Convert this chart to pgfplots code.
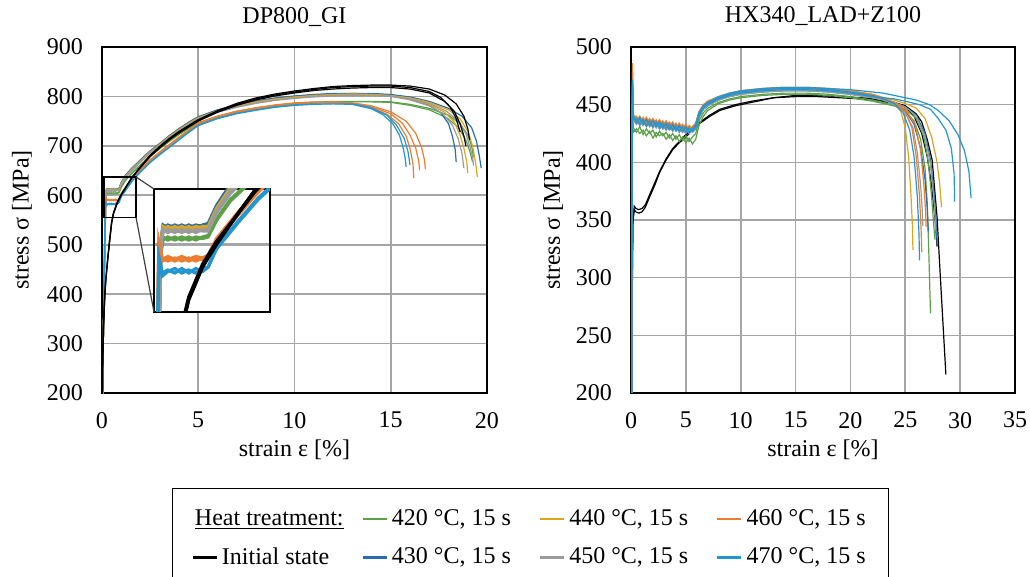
\documentclass[border=0pt]{standalone}
\usepackage{fontspec}
\setmainfont{Liberation Serif}
\usepackage{pgfplots}
\pgfplotsset{compat=1.18}
\usepackage{pgfplotstable}
\definecolor{cgn}{RGB}{92,160,72}
\definecolor{cdb}{RGB}{40,110,175}
\definecolor{cau}{RGB}{220,165,30}
\definecolor{cgy}{RGB}{155,155,155}
\definecolor{cor}{RGB}{237,125,49}
\definecolor{clb}{RGB}{35,150,210}
\definecolor{cgrid}{RGB}{165,165,165}

% ---------------- DP800_GI ----------------
\pgfplotstableread{
e au1 au2 gy1 gy2 gn1 gn2 db1 db2
0.02 150 150 150 150 150 150 150 150
0.1 400 395 405 398 402 396 408 400
0.2 600 602 598 601 596 594 603 600
0.23 612 610 610 608 605 603 613 611
0.3 610 612 608 610 603 605 611 613
0.4 612 610 610 608 605 603 613 611
0.5 610 612 608 610 603 605 611 613
0.6 612 610 610 608 605 603 613 611
0.7 610 612 608 610 603 605 611 613
0.8 612 611 610 609 605 604 613 612
0.88 612 611 610 609 606 605 614 613
1.0 624 623 622 621 617 616 626 625
1.2 638 636 636 634 630 629 640 638
1.5 651 650 649 648 643 642 653 652
2 670 669 668 667 662 661 672 671
2.5 688 687 686 685 680 679 690 689
3 703 702 701 700 695 694 705 704
3.5 719 718 717 716 710 709 721 720
4 733 732 731 730 724 723 735 734
4.5 746 745 744 743 736 735 748 747
5 757 756 755 754 747 746 759 758
6 771 770 769 768 760 759 773 772
7 781 780 779 778 770 769 783 782
8 789 788 787 786 777 776 791 790
9 795 794 793 792 782 781 797 796
10 799 798 797 796 786 785 801 800
11 802 801 800 799 788 787 804 803
12 804 803 802 801 790 789 806 805
13 805 804 803 802 790 789 806 806
14 804 804 802 802 790 789 805 806
}\LUhead
\pgfplotstableread{
e or1 or2 or3 lb1 lb2
0.02 150 150 150 150 150
0.1 400 404 396 402 398
0.17 598 602 596 592 590
0.22 589 591 590 581 579
0.3 591 589 592 583 582
0.4 589 591 590 581 584
0.5 591 589 592 584 581
0.6 589 591 590 581 583
0.7 591 589 592 584 581
0.8 590 591 591 582 584
0.88 592 592 593 585 585
1.0 603 602 604 598 597
1.3 620 619 621 615 614
1.6 636 635 637 631 630
2 652 651 653 648 647
2.5 671 670 672 667 666
3 687 686 688 683 682
3.5 702 701 703 698 697
4 717 716 718 713 712
4.5 731 730 732 728 727
5 745 744 746 742 741
6 759 758 760 756 755
7 769 768 770 766 765
8 776 775 777 773 772
9 782 781 783 779 778
10 786 785 787 783 782
11 788 787 789 785 784
12 788 788 789 785 785
13 785 786 787 784 785
}\LLhead
\pgfplotstableread{
e bk1 bk2 bk3
0.01 150 150 150
0.03 250 245 255
0.07 330 325 335
0.15 400 398 402
0.2 430 428 432
0.3 472 470 474
0.4 510 508 511
0.5 545 543 546
0.6 564 563 565
0.8 586 585 587
1.0 601 600 602
1.3 620 620 620
1.55 636 636 635
2 657 658 656
2.5 680 681 678
3 698 699 696
3.5 714 715 712
4 728 729 726
4.5 740 741 738
5 752 753 750
6 770 771 768
7 784 786 782
8 795 797 793
9 803 805 801
10 809 811 807
11 814 816 812
12 818 820 815
13 820 822 817
14 821 823 818
15 821 823 818
}\LBhead

% ---------------- HX340_LAD+Z100 ----------------
\pgfplotstableread{
e gn1 gn2 db1 db2 au1 au2 gy1 gy2 or1 or2 lb1 lb2 lb3
0.05 150 150 150 150 150 150 150 150 150 150 150 150 150
0.10 400 405 395 400 410 398 402 396 404 400 398 402 400
0.14 455 450 468 462 470 458 465 460 486 478 472 466 470
0.2 430 426 438 435 440 437 438 434 442 439 441 437 440
0.5 426 429 433 437 435 439 433 437 436 440 434 438 435
0.8 431 425 437 432 439 434 437 433 440 436 439 434 438
1.1 424 428 432 436 434 438 432 436 435 439 433 437 434
1.4 429 423 436 431 438 433 436 432 439 434 437 432 437
1.7 425 427 431 435 433 437 431 435 434 438 432 436 433
2.0 428 421 435 430 437 432 435 430 438 433 436 431 436
2.3 422 426 430 434 432 436 430 434 433 437 431 435 432
2.6 427 423 434 429 436 431 434 429 437 432 435 430 434
2.9 423 425 429 433 431 435 429 433 432 436 430 434 430
3.2 426 420 433 428 435 430 433 428 436 431 434 429 433
3.5 421 424 428 432 430 434 428 432 431 435 429 433 429
3.8 425 419 432 427 434 429 432 427 435 430 433 428 432
4.1 420 423 427 431 429 433 427 431 430 434 428 432 428
4.4 424 418 431 426 433 428 431 426 434 429 432 427 431
4.7 419 422 426 430 428 432 426 430 429 433 427 431 427
5.0 423 417 430 425 432 427 430 425 433 428 431 426 430
5.3 418 421 425 429 427 431 425 429 428 432 426 430 426
5.6 422 416 428 426 430 428 428 426 431 429 429 427 429
5.9 425 420 432 429 434 431 431 429 434 432 432 430 433
6.2 436 432 442 439 444 441 441 439 444 442 442 440 443
6.6 443 440 448 446 450 447 447 446 450 448 448 447 449
7.0 447 445 451 449 453 451 450 449 453 451 451 450 452
8.0 452 451 456 454 457 456 455 454 457 456 456 455 457
9.0 455 454 459 457 460 459 458 457 460 459 459 458 460
10 457 456 461 459 462 461 460 459 462 461 461 460 462
12 459 458 463 461 464 463 462 461 464 463 463 462 464
14 460 459 464 462 465 464 463 462 465 464 464 463 465
16 460 459 464 462 465 464 463 462 465 464 464 463 465
18 459 458 463 461 464 463 462 461 464 463 463 462 464
20 457 456 461 459 462 461 460 459 462 461 461 460 463
22 454 453 458 456 459 458 457 456 459 458 458 457 461
}\RChead
\pgfplotstableread{
e bk1 bk2
0.08 150 150
0.12 300 290
0.17 350 346
0.3 359 362
0.45 357 360
0.7 356 359
1.0 357 360
1.3 361 363
1.7 370 372
2.2 381 383
2.6 391 392
3.2 402 403
3.8 411 412
4.4 417 418
5.0 422 424
5.6 428 429
6.3 434 435
7.2 440 441
8.1 445 446
9.5 449 450
11 452 453
13 456 456
15 457 458
17 457 458
19 456 457
21 455 456
22 454 455
}\RBhead

\newcommand\leftcurves{%
\addplot[forget plot,cgn] table[x=e,y=gn1]{\LUhead};
\addplot[forget plot,cgn] table[x=e,y=gn2]{\LUhead};
\addplot[forget plot,cgn] coordinates {(14,790)(15,789)(16,784)(17,776)(18,762)(18.6,745)(19.0,722)(19.2,700)(19.3,677)};
\addplot[forget plot,cgn] coordinates {(14,789)(15,788)(16,782)(17,773)(17.9,757)(18.5,738)(18.9,712)(19.1,690)(19.25,668)};
\addplot[forget plot,cdb] table[x=e,y=db1]{\LUhead};
\addplot[forget plot,cdb] table[x=e,y=db2]{\LUhead};
\addplot[forget plot,cdb] coordinates {(14,805)(15,803)(16,795)(17,782)(17.6,767)(18.0,745)(18.2,720)(18.35,692)(18.4,667)};
\addplot[forget plot,cdb] coordinates {(14,806)(15,804)(16,799)(17,790)(18,776)(18.7,760)(19.2,737)(19.45,710)(19.6,680)(19.7,655)};
\addplot[forget plot,cau] table[x=e,y=au1]{\LUhead};
\addplot[forget plot,cau] table[x=e,y=au2]{\LUhead};
\addplot[forget plot,cau] coordinates {(14,804)(15,801)(16,795)(17,784)(17.8,768)(18.3,748)(18.6,722)(18.8,695)(18.95,668)(19.0,645)};
\addplot[forget plot,cau] coordinates {(14,804)(15,802)(16,797)(17,788)(18,773)(18.6,755)(19.0,730)(19.25,700)(19.4,668)(19.5,637)};
\addplot[forget plot,cgy] table[x=e,y=gy1]{\LUhead};
\addplot[forget plot,cgy] table[x=e,y=gy2]{\LUhead};
\addplot[forget plot,cgy] coordinates {(14,802)(15,800)(16,793)(17,781)(17.7,765)(18.2,742)(18.5,715)(18.7,685)(18.8,655)};
\addplot[forget plot,cgy] coordinates {(14,802)(15,801)(16,795)(17,786)(17.9,770)(18.5,750)(18.9,725)(19.1,700)(19.25,678)(19.3,660)};
\addplot[forget plot,cor] table[x=e,y=or1]{\LLhead};
\addplot[forget plot,cor] table[x=e,y=or2]{\LLhead};
\addplot[forget plot,cor] table[x=e,y=or3]{\LLhead};
\addplot[forget plot,cor] coordinates {(13,785)(14,777)(14.8,764)(15.4,745)(15.8,720)(16.0,695)(16.15,665)(16.2,635)};
\addplot[forget plot,cor] coordinates {(13,786)(14,779)(15,765)(15.6,746)(16.0,722)(16.3,695)(16.45,670)(16.5,651)};
\addplot[forget plot,cor] coordinates {(13,787)(14,781)(15,769)(15.8,750)(16.3,725)(16.6,697)(16.75,672)(16.8,653)};
\addplot[forget plot,clb] table[x=e,y=lb1]{\LLhead};
\addplot[forget plot,clb] table[x=e,y=lb2]{\LLhead};
\addplot[forget plot,clb] coordinates {(13,784)(14,775)(14.6,763)(15.1,745)(15.45,722)(15.65,695)(15.75,675)(15.8,657)};
\addplot[forget plot,clb] coordinates {(13,785)(14,777)(14.8,762)(15.3,742)(15.7,715)(15.9,688)(16.0,661)};
\addplot[forget plot,black] table[x=e,y=bk1]{\LBhead};
\addplot[forget plot,black] table[x=e,y=bk2]{\LBhead};
\addplot[forget plot,black] table[x=e,y=bk3]{\LBhead};
\addplot[forget plot,black] coordinates {(15,821)(16,818)(17,810)(17.6,798)(18.1,778)(18.4,755)(18.6,728)};
\addplot[forget plot,black] coordinates {(15,823)(16,821)(17,815)(17.8,803)(18.4,785)(18.8,760)(19.0,735)(19.1,712)};
\addplot[forget plot,black] coordinates {(15,818)(16,815)(17,807)(17.8,790)(18.3,770)(18.6,745)(18.8,720)(18.9,700)};
}

\pgfplotsset{
  base/.style={
    scale only axis,
    axis line style={line width=1.0pt},
    grid=major,
    grid style={cgrid,line width=0.8pt},
    major tick length=0pt,
    /pgf/number format/assume math mode=true,
    tick label style={font=\fontsize{12}{14}\selectfont},
    label style={font=\fontsize{12}{14}\selectfont},
    title style={font=\fontsize{12}{14}\selectfont, at={(axis description cs:0.5,1)}, anchor=base, yshift=6pt},
    xticklabel shift=6pt,
    yticklabel shift=6pt,
    xlabel style={at={(axis description cs:0.5,0)}, anchor=center, yshift=-28.5pt},
    every axis plot/.append style={line width=0.6pt},
  }
}

\begin{document}
\begin{tikzpicture}
\useasboundingbox (0,0) rectangle (515pt,-288.5pt);

% ---------- left axis ----------
\begin{axis}[base,
  at={(51pt,-196.5pt)}, anchor=south west,
  width=192.5pt, height=173pt,
  xmin=0, xmax=20, ymin=200, ymax=900,
  xtick={0,5,10,15,20}, ytick={200,300,...,900},
  title={DP800\_GI},
  xlabel={strain ε [\%]},
  ylabel={stress σ [MPa]},
  ylabel style={at={(axis description cs:-0.208,0.5)}, anchor=center},
  legend columns=4,
  legend cell align=left,
  legend image code/.code={\draw[#1,line width=1.2pt] (0pt,0pt) -- (12pt,0pt);},
  legend style={at={(axis description cs:0.1818,-0.2746)}, anchor=north west,
    draw=black, line width=0.6pt, font=\fontsize{12}{14}\selectfont,
    inner xsep=9.5pt, inner ysep=8.5pt, row sep=5.5pt,
    /tikz/every even column/.append style={column sep=12pt}},
]
\leftcurves
\draw[black,line width=0.6pt] (axis cs:0.1,555) rectangle (axis cs:1.77,637);
\coordinate (sbT) at (axis cs:1.77,637);
\coordinate (sbB) at (axis cs:1.77,555);
\addlegendimage{empty legend}\addlegendentry{\hspace*{-13.5pt}\underline{Heat treatment:}\hspace*{-5pt}}
\addlegendimage{cgn}\addlegendentry{420 °C, 15 s}
\addlegendimage{cau}\addlegendentry{440 °C, 15 s}
\addlegendimage{cor}\addlegendentry{460 °C, 15 s}
\addlegendimage{black}\addlegendentry{Initial state}
\addlegendimage{cdb}\addlegendentry{430 °C, 15 s}
\addlegendimage{cgy}\addlegendentry{450 °C, 15 s}
\addlegendimage{clb}\addlegendentry{470 °C, 15 s}
\end{axis}

% ---------- inset ----------
\begin{axis}[
  scale only axis,
  at={(77pt,-94.5pt)}, anchor=north west,
  width=58pt, height=61.5pt,
  xmin=0.1, xmax=1.77, ymin=555, ymax=637,
  xtick=\empty, ytick={600}, yticklabels={},
  ymajorgrids, grid style={cgrid,line width=1.2pt},
  major tick length=0pt,
  axis line style={line width=0.7pt},
  axis background/.style={fill=white},
  every axis plot/.append style={line width=1.6pt},
]
\leftcurves
\coordinate (iTL) at (rel axis cs:0,1);
\coordinate (iBL) at (rel axis cs:0,0);
\end{axis}
\draw[black!75,line width=0.6pt] (sbT) -- (iTL);
\draw[black!75,line width=0.6pt] (sbB) -- (iBL);

% ---------- right axis ----------
\begin{axis}[base,
  at={(315.5pt,-196.5pt)}, anchor=south west,
  width=192pt, height=173pt,
  xmin=0, xmax=35, ymin=200, ymax=500,
  xtick={0,5,...,35}, ytick={200,250,...,500},
  title={HX340\_LAD+Z100},
  xlabel={strain ε [\%]},
  ylabel={stress σ [MPa]},
  ylabel style={at={(axis description cs:-0.203,0.5)}, anchor=center},
]
\addplot[black] table[x=e,y=bk1]{\RBhead};
\addplot[black] table[x=e,y=bk2]{\RBhead};
\addplot[black] coordinates {(22,454)(24,451)(25,448)(25.8,440)(26.5,425)(27,405)(27.4,380)(27.7,352)(27.9,327)};
\addplot[black] coordinates {(22,455)(24,452)(25,449)(26,442)(26.5,435)(27.0,420)(27.45,402)(27.9,352)(28.2,300)(28.45,258)(28.7,216)};
\addplot[cgn] table[x=e,y=gn1]{\RChead};
\addplot[cgn] table[x=e,y=gn2]{\RChead};
\addplot[cgn] coordinates {(22,454)(23,452)(24,449)(25,444)(25.8,436)(26.4,420)(26.8,395)(27.0,365)(27.15,320)(27.3,269)};
\addplot[cgn] coordinates {(22,453)(23,451)(24,449)(25,446)(26,438)(26.7,422)(27.1,400)(27.4,370)(27.6,345)(27.7,333)};
\addplot[cdb] table[x=e,y=db1]{\RChead};
\addplot[cdb] table[x=e,y=db2]{\RChead};
\addplot[cdb] coordinates {(22,458)(23,455)(24,451)(25,445)(25.8,433)(26.4,412)(26.8,385)(27.0,360)(27.1,340)};
\addplot[cdb] coordinates {(22,456)(23,454)(24,451)(25,448)(26,441)(26.8,425)(27.3,402)(27.6,375)(27.8,350)(27.9,330)};
\addplot[cau] table[x=e,y=au1]{\RChead};
\addplot[cau] table[x=e,y=au2]{\RChead};
\addplot[cau] coordinates {(22,459)(23,456)(24,451)(24.6,444)(25.0,430)(25.3,405)(25.5,375)(25.65,345)(25.7,324)};
\addplot[cau] coordinates {(22,458)(23,456)(24,454)(25,451)(26,447)(26.8,438)(27.4,422)(27.9,400)(28.15,380)(28.3,361)};
\addplot[cgy] table[x=e,y=gy1]{\RChead};
\addplot[cgy] table[x=e,y=gy2]{\RChead};
\addplot[cgy] coordinates {(22,457)(23,455)(24,452)(25,448)(26,440)(26.8,422)(27.3,398)(27.6,368)(27.8,339)};
\addplot[cgy] coordinates {(22,456)(23,454)(24,450)(25,443)(25.7,430)(26.1,408)(26.4,380)(26.55,358)(26.6,345)};
\addplot[cor] table[x=e,y=or1]{\RChead};
\addplot[cor] table[x=e,y=or2]{\RChead};
\addplot[cor] coordinates {(22,459)(23,456)(24,452)(25,444)(25.6,430)(26.0,405)(26.3,370)(26.45,340)(26.5,322)};
\addplot[cor] coordinates {(22,458)(23,455)(24,452)(25,446)(25.9,433)(26.4,410)(26.7,380)(26.85,358)(26.9,344)};
\addplot[clb] table[x=e,y=lb1]{\RChead};
\addplot[clb] table[x=e,y=lb2]{\RChead};
\addplot[clb] table[x=e,y=lb3]{\RChead};
\addplot[clb] coordinates {(22,458)(23,455)(24,451)(24.8,443)(25.4,428)(25.8,405)(26.1,370)(26.25,338)(26.3,315)};
\addplot[clb] coordinates {(22,457)(23,456)(24,455)(25,453)(26.3,450)(27.3,446)(28.0,438)(28.7,428)(29.2,412)(29.45,390)(29.5,366)};
\addplot[clb] coordinates {(22,461)(23,460)(24,458)(25,456)(26,454)(27.2,450)(28,445)(29,436)(29.8,424)(30.4,410)(30.8,392)(31.0,369)};
\end{axis}
\end{tikzpicture}
\end{document}
